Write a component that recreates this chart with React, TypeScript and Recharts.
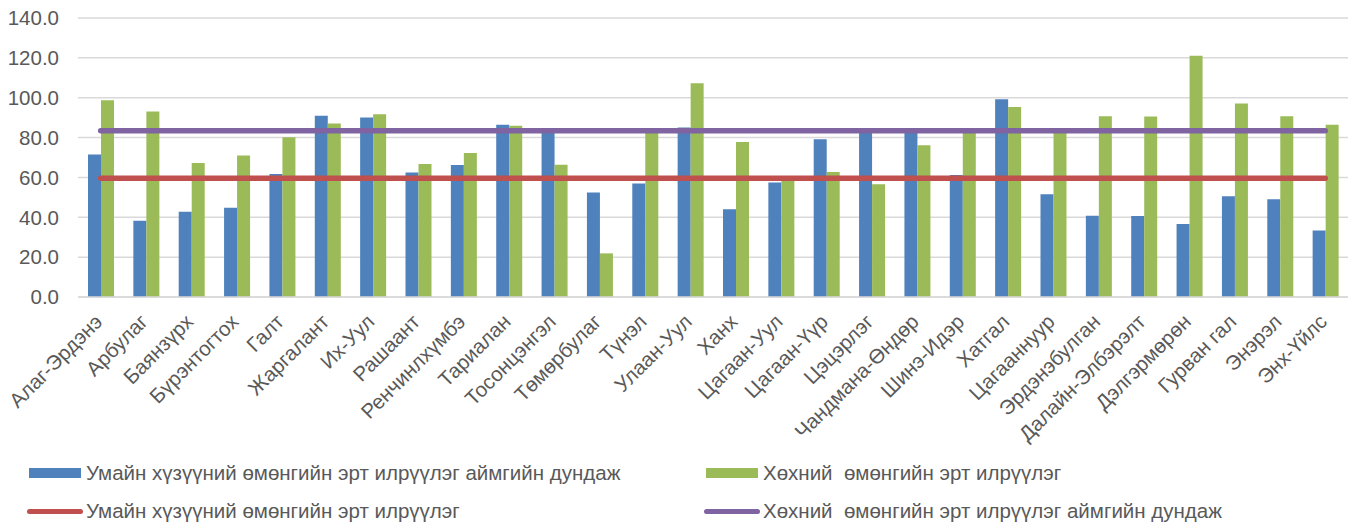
import { Bar, CartesianGrid, ComposedChart, Line, XAxis, YAxis } from "recharts";

const soums = [
  "Алаг-Эрдэнэ", "Арбулаг", "Баянзүрх", "Бүрэнтогтох", "Галт", "Жаргалант", "Их-Уул",
  "Рашаант", "Ренчинлхүмбэ", "Тариалан", "Тосонцэнгэл", "Төмөрбулаг", "Түнэл", "Улаан-Уул",
  "Ханх", "Цагаан-Уул", "Цагаан-Үүр", "Цэцэрлэг", "Чандмана-Өндөр", "Шинэ-Идэр", "Хатгал",
  "Цагааннуур", "Эрдэнэбулган", "Далайн-Элбэрэлт", "Дэлгэрмөрөн", "Гурван гал", "Энэрэл", "Энх-Үйлс",
];

// blue bars
const cervicalValues = [
  71.5, 38.2, 42.8, 44.8, 61.7, 90.9, 90.1, 62.5, 66.2, 86.4, 83.5, 52.5, 57.0, 85.1,
  44.0, 57.5, 79.2, 83.6, 83.6, 61.2, 99.2, 51.6, 40.8, 40.6, 36.6, 50.6, 49.1, 33.4,
];

// green bars
const breastValues = [
  98.7, 93.1, 67.3, 71.0, 80.2, 87.1, 91.7, 66.7, 72.3, 85.9, 66.3, 21.9, 83.2, 107.3,
  77.8, 59.5, 62.7, 56.6, 76.2, 82.5, 95.4, 83.0, 90.7, 90.6, 121.0, 97.1, 90.7, 86.4,
];

const cervicalLevel = 59.6;
const breastLevel = 83.4;

const yTicks = [0, 20, 40, 60, 80, 100, 120, 140];

const legendNames = [
  "Умайн хүзүүний өмөнгийн эрт илрүүлэг аймгийн дундаж",
  "Хөхний  өмөнгийн эрт илрүүлэг",
  "Умайн хүзүүний өмөнгийн эрт илрүүлэг",
  "Хөхний  өмөнгийн эрт илрүүлэг аймгийн дундаж",
];

const BLUE = "#4F81BD";
const GREEN = "#9BBB59";
const RED = "#C0504D";
const PURPLE = "#8064A2";
const TEXT = "#595959";
const FONT = "'Liberation Sans', Arial, sans-serif";
const FONT_SIZE = 20.5;

const chartData = soums.map((name, i) => ({
  name,
  cervical: cervicalValues[i],
  breast: breastValues[i],
  cervicalLine: cervicalLevel,
  breastLine: breastLevel,
}));

const SoumTick = (props: { x: number; y: number; payload: { value: string } }) => {
  const { x, y, payload } = props;
  return (
    <text
      transform={`translate(${x + 3},${y + 26}) rotate(-45)`}
      textAnchor="end"
      fill={TEXT}
      fontSize={FONT_SIZE}
      fontFamily={FONT}
    >
      {payload.value}
    </text>
  );
};

const LegendRow = (props: { left: number; top: number; color: string; line?: boolean; label: string }) => {
  const { left, top, color, line, label } = props;
  return (
    <div style={{ position: "absolute", left, top, height: 20, display: "flex", alignItems: "center" }}>
      {line ? (
        <div style={{ width: 56, height: 5, borderRadius: 3, background: color, marginRight: 3 }} />
      ) : (
        <div style={{ width: 52, height: 10, background: color, marginRight: 5 }} />
      )}
      <span style={{ fontSize: FONT_SIZE, lineHeight: "20px", color: TEXT, fontFamily: FONT, whiteSpace: "pre" }}>{label}</span>
    </div>
  );
};

export default function App() {
  return (
    <div style={{ position: "absolute", left: 0, top: 0, width: 1357, height: 524, background: "#fff" }}>
      <ComposedChart
        width={1357}
        height={524}
        data={chartData}
        margin={{ top: 18, right: 9, left: 0, bottom: 0 }}
        barGap={0}
      >
        <CartesianGrid vertical={false} stroke="#d9d9d9" strokeWidth={1.5} />
        <XAxis
          dataKey="name"
          height={227}
          interval={0}
          tickLine={false}
          tickSize={0}
          tickMargin={0}
          axisLine={{ stroke: "#d9d9d9", strokeWidth: 1.5 }}
          tick={SoumTick}
        />
        <YAxis
          width={78}
          domain={[0, 140]}
          ticks={yTicks}
          interval={0}
          axisLine={false}
          tickLine={false}
          tickSize={0}
          tickMargin={19}
          tickFormatter={(v: number) => v.toFixed(1)}
          tick={{ fill: TEXT, fontSize: FONT_SIZE, fontFamily: FONT }}
        />
        <Bar dataKey="cervical" fill={BLUE} barSize={13} isAnimationActive={false} />
        <Bar dataKey="breast" fill={GREEN} barSize={13} isAnimationActive={false} />
        <Line
          dataKey="cervicalLine"
          stroke={RED}
          strokeWidth={5.5}
          strokeLinecap="round"
          dot={false}
          activeDot={false}
          isAnimationActive={false}
        />
        <Line
          dataKey="breastLine"
          stroke={PURPLE}
          strokeWidth={5.5}
          strokeLinecap="round"
          dot={false}
          activeDot={false}
          isAnimationActive={false}
        />
      </ComposedChart>
      <LegendRow left={29} top={463} color={BLUE} label={legendNames[0]} />
      <LegendRow left={706} top={463} color={GREEN} label={legendNames[1]} />
      <LegendRow left={27} top={501} color={RED} line label={legendNames[2]} />
      <LegendRow left={704} top={501} color={PURPLE} line label={legendNames[3]} />
    </div>
  );
}
